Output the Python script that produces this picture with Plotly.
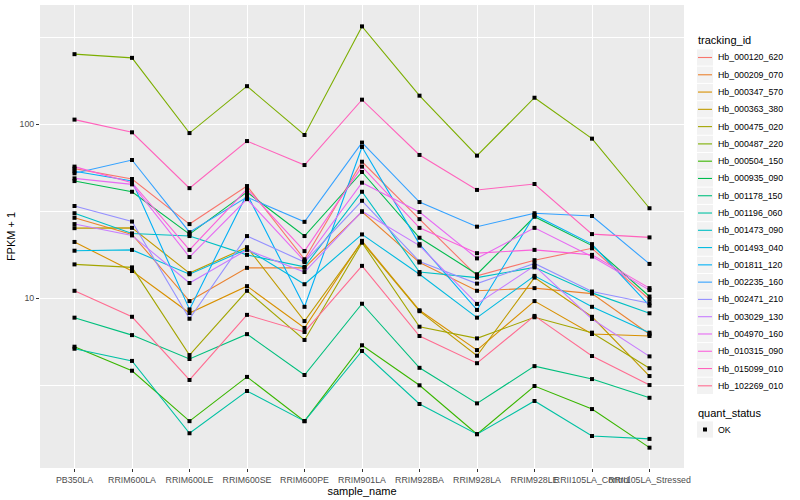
import plotly.graph_objects as go

samples = ["PB350LA", "RRIM600LA", "RRIM600LE", "RRIM600SE", "RRIM600PE", "RRIM901LA",
           "RRIM928BA", "RRIM928LA", "RRIM928LE", "RRII105LA_Control", "RRII105LA_Stressed"]

tracking_ids = ["Hb_000120_620", "Hb_000209_070", "Hb_000347_570", "Hb_000363_380", "Hb_000475_020",
                "Hb_000487_220", "Hb_000504_150", "Hb_000935_090", "Hb_001178_150", "Hb_001196_060",
                "Hb_001473_090", "Hb_001493_040", "Hb_001811_120", "Hb_002235_160", "Hb_002471_210",
                "Hb_003029_130", "Hb_004970_160", "Hb_010315_090", "Hb_015099_010", "Hb_102269_010"]

colors = ["#F8766D", "#EA8331", "#D89000", "#C09B00", "#A3A500", "#7CAE00", "#39B600", "#00BB4E",
          "#00BF7D", "#00C1A3", "#00BFC4", "#00BAE0", "#00B0F6", "#35A2FF", "#9590FF", "#C77CFF",
          "#E76BF3", "#FA62DB", "#FF62BC", "#FF6C91"]

quant_status = ["OK"]

hb_000120_620 = [55.4, 48.3, 26.6, 44.0, 16.7, 60.7, 28.4, 13.4, 16.5, 19.3, 9.8]
hb_000209_070 = [28.9, 23.2, 9.6, 14.9, 14.9, 31.3, 16.0, 11.0, 11.4, 10.6, 6.19]
hb_000347_570 = [21.0, 14.3, 8.2, 11.7, 6.73, 21.3, 8.5, 5.02, 9.6, 6.21, 6.05]
hb_000363_380 = [25.2, 25.3, 13.9, 19.6, 7.37, 21.0, 8.4, 4.66, 13.1, 7.8, 3.56]
hb_000475_020 = [15.6, 15.0, 4.7, 11.0, 5.74, 20.8, 6.84, 5.86, 7.75, 6.32, 3.95]
hb_000487_220 = [252, 240, 88.7, 165, 86.5, 364, 145.5, 65.8, 141.6, 82.4, 32.8]
hb_000504_150 = [5.25, 3.82, 1.96, 3.52, 1.96, 5.35, 3.15, 1.65, 3.12, 2.30, 1.38]
hb_000935_090 = [47.0, 40.8, 23.3, 40.6, 22.7, 53.0, 22.2, 13.7, 29.3, 20.0, 10.2]
hb_001178_150 = [7.71, 6.12, 4.46, 6.2, 3.61, 9.27, 3.97, 2.48, 4.06, 3.42, 2.67]
hb_001196_060 = [5.11, 4.35, 1.67, 2.92, 1.96, 4.96, 2.46, 1.65, 2.56, 1.61, 1.55]
hb_001473_090 = [30.7, 23.5, 22.7, 17.7, 15.1, 40.8, 14.1, 13.1, 15.0, 10.7, 8.17]
hb_001493_040 = [18.7, 18.9, 13.7, 19.1, 12.0, 23.2, 13.7, 7.71, 13.4, 8.9, 6.32]
hb_001811_120 = [53.5, 47.0, 8.6, 39.6, 8.9, 73.8, 20.4, 8.54, 30.0, 20.4, 9.04]
hb_002235_160 = [52.1, 62.1, 23.9, 38.0, 27.4, 78.2, 35.6, 25.7, 30.7, 29.6, 15.7]
hb_002471_210 = [33.8, 27.5, 7.6, 22.7, 16.1, 36.2, 16.2, 12.1, 15.8, 10.9, 9.33]
hb_003029_130 = [26.6, 22.9, 12.2, 18.9, 14.1, 31.5, 20.0, 9.25, 15.3, 7.58, 4.62]
hb_004970_160 = [48.7, 45.0, 17.2, 37.0, 16.3, 46.0, 31.2, 16.9, 25.3, 17.3, 11.1]
hb_010315_090 = [56.9, 46.0, 18.9, 42.3, 18.6, 56.9, 25.3, 18.1, 18.9, 17.7, 11.4]
hb_015099_010 = [106, 89.6, 42.8, 79.8, 58.1, 138, 66.4, 41.8, 45.2, 23.3, 22.3]
hb_102269_010 = [11.0, 7.8, 3.38, 8.0, 6.38, 15.3, 6.05, 4.22, 7.89, 4.64, 3.16]

series = [hb_000120_620, hb_000209_070, hb_000347_570, hb_000363_380, hb_000475_020,
          hb_000487_220, hb_000504_150, hb_000935_090, hb_001178_150, hb_001196_060,
          hb_001473_090, hb_001493_040, hb_001811_120, hb_002235_160, hb_002471_210,
          hb_003029_130, hb_004970_160, hb_010315_090, hb_015099_010, hb_102269_010]

y_tick_vals = [10, 100]
y_tick_text = ["10", "100"]
y_minor_vals = [10 ** 0.5, 10 ** 1.5, 10 ** 2.5]

FONT = "Liberation Sans, Arial, sans-serif"
W, H = 800, 500
ML, MR, MT, MB = 40, 116, 5, 32
PW, PH = W - ML - MR, H - MT - MB


def xp(px):
    return (px - ML) / PW


def yp(py):
    return (H - MB - py) / PH


fig = go.Figure()
for tid, vals, col in zip(tracking_ids, series, colors):
    fig.add_trace(go.Scatter(x=samples, y=vals, mode="lines", name=tid,
                             line=dict(color=col, width=1.1), showlegend=False))

pts_x = [s for vals in series for s in samples]
pts_y = [v for vals in series for v in vals]
fig.add_trace(go.Scatter(x=pts_x, y=pts_y, mode="markers", name=quant_status[0],
                         marker=dict(symbol="square", size=4, color="black"),
                         showlegend=False))

# ggplot-style legends (guide boxes), laid out in figure pixels
shapes = []
annotations = []
KEY_X0, KEY_X1 = 697, 713
TEXT_X = 716
KEY_H = 17.28
FIRST_Y = 57.5

annotations.append(dict(xref="paper", yref="paper", x=xp(695.5), y=yp(40.5), xanchor="left",
                        yanchor="middle", text="tracking_id", showarrow=False,
                        font=dict(family=FONT, size=11, color="black")))
for i, (tid, col) in enumerate(zip(tracking_ids, colors)):
    cy = FIRST_Y + KEY_H * i
    shapes.append(dict(type="rect", xref="paper", yref="paper",
                       x0=xp(KEY_X0), x1=xp(KEY_X1), y0=yp(cy - KEY_H / 2 + 0.5),
                       y1=yp(cy + KEY_H / 2 - 0.5), fillcolor="#F2F2F2", line=dict(width=0),
                       layer="below"))
    shapes.append(dict(type="line", xref="paper", yref="paper",
                       x0=xp(KEY_X0 + 1), x1=xp(KEY_X1 - 1), y0=yp(cy), y1=yp(cy),
                       line=dict(color=col, width=1.1)))
    annotations.append(dict(xref="paper", yref="paper", x=xp(TEXT_X), y=yp(cy), xanchor="left",
                            yanchor="middle", text=tid, showarrow=False,
                            font=dict(family=FONT, size=8.8, color="black")))

QS_TITLE_Y = 412.5
QS_KEY_Y = 429.5
annotations.append(dict(xref="paper", yref="paper", x=xp(695.5), y=yp(QS_TITLE_Y), xanchor="left",
                        yanchor="middle", text="quant_status", showarrow=False,
                        font=dict(family=FONT, size=11, color="black")))
shapes.append(dict(type="rect", xref="paper", yref="paper",
                   x0=xp(KEY_X0), x1=xp(KEY_X1), y0=yp(QS_KEY_Y - KEY_H / 2 + 0.5),
                   y1=yp(QS_KEY_Y + KEY_H / 2 - 0.5), fillcolor="#F2F2F2", line=dict(width=0),
                   layer="below"))
shapes.append(dict(type="rect", xref="paper", yref="paper",
                   x0=xp(703), x1=xp(707), y0=yp(QS_KEY_Y - 2), y1=yp(QS_KEY_Y + 2),
                   fillcolor="black", line=dict(width=0)))
annotations.append(dict(xref="paper", yref="paper", x=xp(TEXT_X), y=yp(QS_KEY_Y), xanchor="left",
                        yanchor="middle", text=quant_status[0], showarrow=False,
                        font=dict(family=FONT, size=8.8, color="black")))

fig.update_layout(
    width=W, height=H,
    margin=dict(l=ML, r=MR, t=MT, b=MB, autoexpand=False),
    paper_bgcolor="white", plot_bgcolor="#EBEBEB",
    font=dict(family=FONT, size=11, color="black"),
    showlegend=False,
    xaxis=dict(type="category", categoryorder="array", categoryarray=samples,
               range=[-0.6, 10.6], showgrid=True, gridcolor="white", gridwidth=1.1,
               ticks="outside", ticklen=3, tickcolor="#333333", tickwidth=1,
               tickfont=dict(family=FONT, size=8.8, color="#4D4D4D"), tickangle=0,
               title=dict(text="sample_name", standoff=2, font=dict(size=11)),
               zeroline=False, showline=False, automargin=False),
    yaxis=dict(type="log", range=[0.023, 2.684], tickvals=y_tick_vals, ticktext=y_tick_text,
               showgrid=True, gridcolor="white", gridwidth=1.1,
               minor=dict(tickvals=y_minor_vals, showgrid=True, gridcolor="white",
                          gridwidth=0.55, ticks=""),
               ticks="outside", ticklen=3, tickcolor="#333333", tickwidth=1,
               tickfont=dict(family=FONT, size=8.8, color="#4D4D4D"),
               title=dict(text="FPKM + 1", standoff=1, font=dict(size=11)),
               zeroline=False, showline=False, automargin=False),
    shapes=shapes,
    annotations=annotations,
)

fig.write_html("out.html", config={"displayModeBar": False},
               post_script="document.body.style.margin='0px';")
